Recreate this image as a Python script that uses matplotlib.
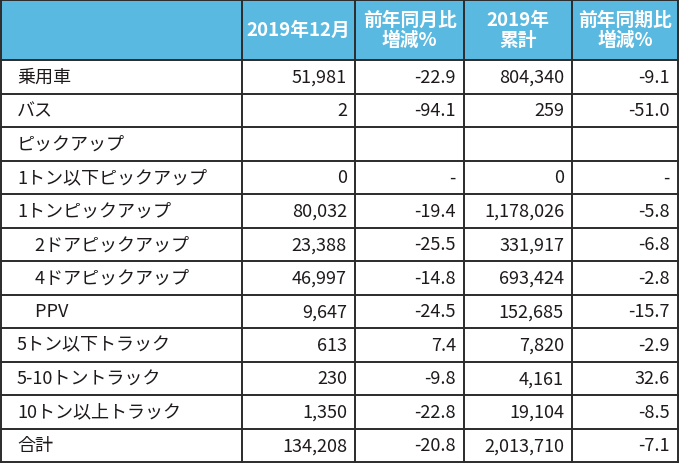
import matplotlib
matplotlib.use("Agg")
import matplotlib.pyplot as plt
from matplotlib.patches import Rectangle

plt.rcParams['font.family'] = ['Noto Sans CJK JP', 'DejaVu Sans']

# table data
headers = ["", "2019年12月", "前年同月比\n増減%", "2019年\n累計", "前年同期比\n増減%"]
categories = ["乗用車", "バス", "ピックアップ", "1トン以下ピックアップ", "1トンピックアップ",
              "\u30002ドアピックアップ", "\u30004ドアピックアップ", "\u3000PPV",
              "5トン以下トラック", "5-10トントラック", "10トン以上トラック", "合計"]
dec_units = ["51,981", "2", "", "0", "80,032", "23,388", "46,997", "9,647", "613", "230", "1,350", "134,208"]
dec_yoy = ["-22.9", "-94.1", "", "-", "-19.4", "-25.5", "-14.8", "-24.5", "7.4", "-9.8", "-22.8", "-20.8"]
ytd_units = ["804,340", "259", "", "0", "1,178,026", "331,917", "693,424", "152,685", "7,820", "4,161", "19,104", "2,013,710"]
ytd_yoy = ["-9.1", "-51.0", "", "-", "-5.8", "-6.8", "-2.8", "-15.7", "-2.9", "32.6", "-8.5", "-7.1"]

col_edges = [1, 242, 355, 464, 572, 678]
header_h = 61
row_h = (463 - header_h) / len(categories)
header_color = "#5ab9e0"
line_color = "#2b2b2b"
text_color = "#1e1a1b"

fig = plt.figure(figsize=(6.8, 4.64), dpi=100)
ax = fig.add_axes([0, 0, 1, 1])
ax.set_xlim(0, 680)
ax.set_ylim(464, 0)
ax.axis("off")

ax.add_patch(Rectangle((col_edges[0], 0), col_edges[-1] - col_edges[0], header_h,
                       facecolor=header_color, edgecolor="none"))

# header text
for i in range(1, 5):
    xc = (col_edges[i] + col_edges[i + 1]) / 2
    ax.text(xc, header_h / 2, headers[i], ha="center", va="center", color="white",
            fontsize=13.5, fontweight="bold", linespacing=1.1)

columns = [dec_units, dec_yoy, ytd_units, ytd_yoy]
for r, cat in enumerate(categories):
    yc = header_h + row_h * (r + 0.5)
    ax.text(col_edges[0] + 16, yc, cat, ha="left", va="center", color=text_color, fontsize=13)
    for c, col in enumerate(columns):
        ax.text(col_edges[c + 2] - 8, yc, col[r], ha="right", va="center",
                color=text_color, fontsize=13)

# grid lines
lw = 1.4
for r in range(len(categories) + 1):
    y = header_h + row_h * r
    ax.plot([col_edges[0], col_edges[-1]], [y, y], color=line_color, lw=lw, solid_capstyle="projecting")
ax.plot([col_edges[0], col_edges[-1]], [1, 1], color=line_color, lw=lw, solid_capstyle="projecting")
for x in col_edges:
    ax.plot([x, x], [1, header_h + row_h * len(categories)], color=line_color, lw=lw,
            solid_capstyle="projecting")

fig.savefig("out.png", dpi=100)
